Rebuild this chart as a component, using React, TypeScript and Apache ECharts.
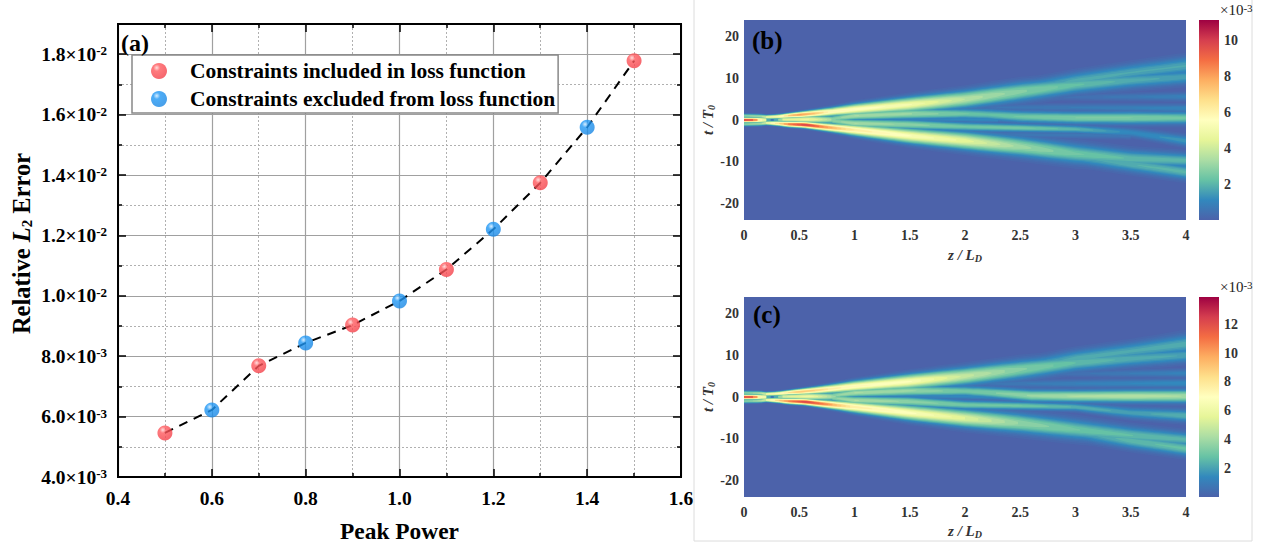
import React, { useEffect, useRef } from "react";
import * as echarts from "echarts";

const FONT = "Liberation Serif";

// Panel (a)
const includedPower = [0.5, 0.7, 0.9, 1.1, 1.3, 1.5];
const includedError = [5.46e-3, 7.68e-3, 9.03e-3, 10.87e-3, 13.74e-3, 17.78e-3];
const excludedPower = [0.6, 0.8, 1.0, 1.2, 1.4];
const excludedError = [6.22e-3, 8.44e-3, 9.83e-3, 12.2e-3, 15.58e-3];
const legendIncluded = "Constraints included in loss function";
const legendExcluded = "Constraints excluded from loss function";

const bTip = [[0, 0, 0.33, 10.2], [0.1, 0, 0.33, 10], [0.15, 0, 0.36, 6.6], [0.2, 0, 0.42, 5], [0.24, 0, 0.27, 2]];
const bUpper = [[0, 1, 0.3, 3], [0.15, 0.9, 0.3, 3.5], [0.2, 0.7, 0.28, 5], [0.3, 0.8, 0.3, 5.5], [0.4, 1.05, 0.33, 7.5], [0.5, 1.25, 0.4, 8.5], [0.65, 1.6, 0.5, 7.5], [0.8, 2, 0.62, 6], [1, 2.55, 0.8, 5.8], [1.5, 3.7, 1.1, 5.2], [2, 5, 1.3, 3.8], [2.5, 6.8, 1.45, 2.9], [3, 8.4, 1.3, 2.3], [3.5, 9.5, 1.2, 1.9], [4, 10.3, 1.1, 1.7]];
const bUpperSub = [[2.5, 7.5, 1.1, 1.4], [3, 9.4, 1.3, 1.9], [3.5, 11.4, 1.3, 1.8], [4, 13, 1.4, 1.8]];
const bLower = [[0, -1, 0.3, 3], [0.15, -0.9, 0.3, 3.5], [0.2, -0.7, 0.28, 5], [0.3, -0.8, 0.32, 7], [0.4, -1, 0.38, 9], [0.55, -1.15, 0.42, 10.5], [0.7, -1.6, 0.5, 9], [0.85, -2, 0.62, 7.5], [1, -2.4, 0.8, 6.5], [1.5, -3.8, 1.1, 5.5], [2, -5, 1.3, 4.7], [2.5, -6.4, 1.45, 3.3], [3, -8.1, 1.5, 2.5], [3.5, -9.3, 1.3, 2.2], [4, -9.7, 1.1, 2.1]];
const bLowerSub = [[3, -8.7, 1.2, 1.7], [3.5, -10.6, 1.2, 2], [4, -12.5, 1.15, 2.1]];
const bCentre = [[0.27, 0, 0.27, 2], [0.35, 0.1, 0.42, 4.5], [0.6, 0.15, 0.56, 5], [0.8, 0.1, 0.6, 3.5], [0.95, 0, 0.45, 1.5]];
const bInnerUpper = [[0.8, 0.3, 0.5, 3], [1, 1, 0.65, 3.5], [1.5, 1.5, 0.85, 3.2], [2, 1.5, 0.8, 2.5], [2.2, 1.3, 0.85, 2.3], [2.5, 0.8, 0.9, 2.5], [3, 0.5, 0.9, 2.8], [3.5, 0.5, 0.95, 2.8], [4, 0.5, 0.95, 2.5]];
const bInnerLower = [[0.8, -0.2, 0.5, 3], [1, -0.8, 0.65, 3.5], [1.5, -1.1, 0.78, 3], [2, -1.6, 0.7, 2.5], [2.5, -1.9, 0.62, 2.6], [3, -2.2, 0.6, 2.1], [3.5, -3, 0.7, 1.2], [4, -5, 0.85, 1.5]];
const bMiddle = [[0.95, 0, 0.35, 0.8], [2, 0.2, 0.55, 1.2], [2.3, 0.1, 0.55, 1.2]];
const bWeakA = [[2.2, 3, 0.55, 0.6], [3, 3, 0.6, 0.8], [4, 2.8, 0.65, 1.1]];
const bWeakB = [[2.5, 5.3, 0.55, 0.3], [3, 5.5, 0.55, 0.5], [4, 5.6, 0.65, 1]];
const bWeakC = [[2.2, -3.5, 0.55, 0.7], [3, -3.6, 0.55, 0.7], [3.5, -3.8, 0.55, 0.7]];

const cTip = [[0, 0, 0.33, 12.6], [0.1, 0, 0.33, 12.4], [0.15, 0, 0.36, 8], [0.2, 0, 0.42, 6.5], [0.24, 0, 0.27, 2.5]];
const cUpper = [[0, 1, 0.3, 3.6], [0.15, 0.9, 0.3, 4.5], [0.2, 0.7, 0.28, 6.5], [0.3, 0.8, 0.3, 7], [0.4, 1.05, 0.33, 8.5], [0.5, 1.25, 0.4, 9.5], [0.65, 1.6, 0.5, 9], [0.8, 2, 0.62, 8], [1, 2.55, 0.8, 7.4], [1.5, 3.7, 1.1, 6.9], [2, 5, 1.3, 5], [2.5, 6.6, 1.45, 3.6], [3, 8.2, 1.3, 2.8], [3.5, 9.2, 1.2, 2.4], [4, 10, 1.1, 2.2]];
const cUpperSub = [[2.5, 7.2, 1.1, 1.8], [3, 9.2, 1.3, 2.4], [3.5, 11, 1.3, 2.3], [4, 12.7, 1.5, 2.4]];
const cLower = [[0, -1, 0.3, 3.6], [0.15, -0.9, 0.3, 4.5], [0.2, -0.7, 0.28, 6.5], [0.3, -0.8, 0.32, 9], [0.4, -1, 0.38, 11], [0.55, -1.15, 0.42, 13], [0.7, -1.6, 0.5, 11.5], [0.85, -2, 0.62, 9.5], [1, -2.4, 0.8, 8], [1.5, -3.8, 1.1, 7], [2, -5.1, 1.3, 5.7], [2.5, -6.3, 1.45, 3.9], [3, -7.8, 1.5, 3.1], [3.5, -9.2, 1.3, 2.8], [4, -10.2, 1.1, 2.6]];
const cLowerSub = [[3, -8.4, 1.2, 2], [3.5, -10.5, 1.2, 2.7], [4, -12.4, 1.15, 2.9]];
const cCentre = [[0.27, 0, 0.27, 2.5], [0.35, 0.1, 0.42, 5.5], [0.6, 0.15, 0.56, 6.3], [0.8, 0.1, 0.6, 4.5], [0.95, 0, 0.45, 1.8]];
const cInnerUpper = [[0.8, 0.3, 0.5, 3.8], [1, 1, 0.65, 4.4], [1.5, 1.5, 0.85, 4], [2, 1.4, 0.8, 3.2], [2.2, 1.1, 0.85, 3.4], [2.6, 0.3, 0.9, 4], [3, 0.2, 0.9, 4.4], [3.5, 0.2, 0.95, 4.6], [4, 0.2, 1, 4.3]];
const cInnerLower = [[0.8, -0.2, 0.5, 3.8], [1, -0.8, 0.65, 4.4], [1.5, -1.1, 0.78, 3.8], [2, -1.9, 0.7, 3.2], [2.5, -2.1, 0.62, 3.1], [3, -2.4, 0.62, 2.5], [3.5, -3.8, 0.85, 2.1], [4, -4.5, 0.95, 2.5]];
const cMiddle = [[0.95, 0, 0.35, 1], [2, 0.2, 0.55, 1.5], [2.3, 0.1, 0.55, 1.6]];
const cWeakA = [[2.2, 3.2, 0.55, 0.8], [3, 3.2, 0.65, 1.2], [4, 3.3, 0.7, 1.6]];
const cWeakB = [[2.5, 5.4, 0.55, 0.4], [3, 5.6, 0.55, 0.7], [4, 5.7, 0.65, 1.3]];

const bRidges = [bWeakB, bWeakA, bWeakC, bMiddle, bUpperSub, bLowerSub, bInnerUpper, bInnerLower, bCentre, bUpper, bLower, bTip];
const cRidges = [cWeakB, cWeakA, cMiddle, cUpperSub, cLowerSub, cInnerUpper, cInnerLower, cCentre, cUpper, cLower, cTip];

const bMax = 11.14;
const cMax = 13.9;
const bBarTicks = [2, 4, 6, 8, 10];
const cBarTicks = [2, 4, 6, 8, 10, 12];
const tTicks = [-20, -10, 0, 10, 20];
const contourFractions = [0.012, 0.025, 0.04, 0.055, 0.07, 0.085, 0.1, 0.12, 0.14, 0.16, 0.18, 0.2, 0.22, 0.25, 0.28, 0.31, 0.34, 0.37, 0.4, 0.43, 0.46, 0.49, 0.52, 0.55, 0.58, 0.61, 0.64, 0.67, 0.7, 0.73, 0.76, 0.79, 0.82, 0.85, 0.88, 0.92];
const spectral = ["#4c62aa", "#3288bd", "#66c2a5", "#abdda4", "#e6f598", "#ffffbf", "#fee08b", "#fdae61", "#f46d43", "#d53e4f", "#9e0142"];

function hexRgb(h: string) {
  return [1, 3, 5].map((i) => parseInt(h.slice(i, i + 2), 16));
}
function cmap(f: number) {
  const p = Math.max(0, Math.min(0.9999, f)) * (spectral.length - 1);
  const i = Math.floor(p);
  const a = hexRgb(spectral[i]);
  const b = hexRgb(spectral[i + 1]);
  const c = a.map((v, k) => Math.round(v + (b[k] - v) * (p - i)));
  return `rgb(${c[0]},${c[1]},${c[2]})`;
}
function sampleRidge(r: number[][], z: number) {
  for (let i = 0; i < r.length - 1; i++) {
    if (z <= r[i + 1][0]) {
      const u = (z - r[i][0]) / (r[i + 1][0] - r[i][0]);
      return [1, 2, 3].map((k) => r[i][k] + (r[i + 1][k] - r[i][k]) * u);
    }
  }
  const l = r[r.length - 1];
  return [l[1], l[2], l[3]];
}
function contourItem(ridges: number[][][], max: number) {
  return (_params: any, api: any) => {
    const frac = api.value(2);
    const level = frac * max;
    const children: any[] = [];
    const flush = (run: number[][]) => {
      if (run.length < 2) return;
      const up = run.map((p) => api.coord([p[0], p[1] + p[2]]));
      const dn = run.map((p) => api.coord([p[0], p[1] - p[2]])).reverse();
      children.push({ type: "polygon", silent: true, shape: { points: up.concat(dn) }, style: { fill: cmap(frac), stroke: "none" } });
    };
    ridges.forEach((r) => {
      const z0 = r[0][0];
      const z1 = r[r.length - 1][0];
      const n = Math.max(2, Math.ceil((z1 - z0) / 0.04));
      let run: number[][] = [];
      for (let i = 0; i <= n; i++) {
        const z = z0 + ((z1 - z0) * i) / n;
        const [t, s, v] = sampleRidge(r, z);
        if (v > level) {
          run.push([z, t, s * Math.sqrt(2 * Math.log(v / level))]);
        } else {
          flush(run);
          run = [];
        }
      }
      flush(run);
    });
    return { type: "group", children };
  };
}
function sphere(light: string, mid: string, edge: string) {
  return {
    type: "radial", x: 0.36, y: 0.3, r: 0.75,
    colorStops: [{ offset: 0, color: light }, { offset: 0.28, color: mid }, { offset: 1, color: edge }],
  };
}
function toPairs(x: number[], y: number[]) {
  return x.map((v, i) => [v, y[i]]);
}
function sciLabel(v: number) {
  const exp = v < 0.00999 ? -3 : -2;
  return `${(v / Math.pow(10, exp)).toFixed(1)}×10{sup|${exp}}`;
}
const grey = "#333";
function heatAxes(g: number, ticksY: number[], xGap: number) {
  const common = { fontFamily: FONT, fontWeight: "bold", fontSize: 14, color: grey };
  const nameRich = { i: { ...common, fontSize: 15, fontStyle: "italic" }, s: { ...common, fontStyle: "italic", fontSize: 10, verticalAlign: "bottom", padding: [6, 0, 0, 0] } };
  return {
    x: {
      type: "value", gridIndex: g, min: 0, max: 4, interval: 0.5,
      name: "{i|z / L}{s|D}", nameLocation: "middle", nameGap: xGap,
      nameTextStyle: { ...common, rich: nameRich },
      axisLine: { show: false }, axisTick: { show: false }, splitLine: { show: false },
      axisLabel: { ...common, margin: 8, formatter: (v: number) => String(v) },
    },
    y: {
      type: "value", gridIndex: g, min: -24, max: 24,
      name: "{i|t / T}{s|0}", nameLocation: "middle", nameGap: 26, nameRotate: 90,
      nameTextStyle: { ...common, rich: nameRich },
      axisLine: { show: false }, axisTick: { show: false }, splitLine: { show: false },
      axisLabel: { ...common, margin: 5, customValues: ticksY },
    },
  };
}
function barAxes(g: number, max: number, ticks: number[]) {
  return {
    x: { type: "category", gridIndex: g, data: ["scale"], show: false },
    y: {
      type: "value", gridIndex: g, position: "right", min: 0, max,
      axisLine: { show: false }, splitLine: { show: false },
      axisTick: { show: true, inside: true, length: 2, customValues: ticks, lineStyle: { color: "#333" } },
      axisLabel: { fontFamily: FONT, fontWeight: "bold", fontSize: 14, color: grey, margin: 5, customValues: ticks },
    },
  };
}
function barSeries(i: number, max: number) {
  return {
    type: "bar", xAxisIndex: i, yAxisIndex: i, data: [max], barWidth: "100%", silent: true,
    itemStyle: {
      color: {
        type: "linear", x: 0, y: 1, x2: 0, y2: 0,
        colorStops: spectral.map((c, k) => ({ offset: k / (spectral.length - 1), color: c })),
      },
    },
  };
}
function heatSeries(i: number, ridges: number[][][], max: number) {
  return {
    type: "custom", xAxisIndex: i, yAxisIndex: i, clip: true, silent: true,
    renderItem: contourItem(ridges, max),
    encode: { x: 0, y: 1 },
    data: contourFractions.map((f) => [2, 0, f]),
  };
}
function panelLabel(text: string, x: number, y: number, size: number) {
  return { type: "text", x, y, z: 20, style: { text, fill: "#000", font: `bold ${size}px "${FONT}"` } };
}
function expLabel(x: number, y: number) {
  return {
    type: "text", x, y, z: 20,
    style: {
      text: "×10{s|-3}", fill: "#222", font: `15px "${FONT}"`,
      rich: { s: { fontFamily: FONT, fontSize: 11, fill: "#222", verticalAlign: "top" } },
    },
  };
}

export default function App() {
  const ref = useRef<HTMLDivElement>(null);
  useEffect(() => {
    document.body.style.margin = "0";
    const chart = echarts.init(ref.current!, undefined, { renderer: "svg" });
    const ba = heatAxes(1, tTicks, 27);
    const ca = heatAxes(3, tTicks, 26);
    const bb = barAxes(2, bMax, bBarTicks);
    const cb = barAxes(4, cMax, cBarTicks);
    const aLabel = { fontFamily: FONT, fontWeight: "bold", fontSize: 19.5, color: "#000" };
    const majorLine = { show: true, lineStyle: { color: "#a0a0a0", width: 1.2 } };
    const minorLine = { show: true, lineStyle: { color: "#b0b0b0", width: 1, type: [2, 2] } };
    const tickStyle = { color: "#000", width: 1.5 };
    chart.setOption({
      animation: false,
      backgroundColor: "#fff",
      grid: [
        { left: 118, top: 24, width: 563, height: 453, show: true, borderColor: "#000", borderWidth: 2, backgroundColor: "transparent" },
        { left: 744, top: 20, width: 442, height: 200, show: true, backgroundColor: spectral[0], borderWidth: 0 },
        { left: 1199, top: 20, width: 20, height: 200 },
        { left: 744, top: 297, width: 442, height: 200, show: true, backgroundColor: spectral[0], borderWidth: 0 },
        { left: 1199, top: 297, width: 20, height: 200 },
      ],
      xAxis: [
        {
          type: "value", gridIndex: 0, min: 0.4, max: 1.6, interval: 0.2, minorTick: { show: true, splitNumber: 2, length: 4, lineStyle: tickStyle },
          name: "Peak Power", nameLocation: "middle", nameGap: 42,
          nameTextStyle: { fontFamily: FONT, fontWeight: "bold", fontSize: 23.4, color: "#000" },
          axisLine: { lineStyle: { color: "#000", width: 2 } },
          axisTick: { inside: true, length: 8, lineStyle: tickStyle },
          splitLine: majorLine, minorSplitLine: minorLine,
          axisLabel: { ...aLabel, margin: 11, formatter: (v: number) => v.toFixed(1) },
        },
        {
          type: "value", gridIndex: 0, position: "top", min: 0.4, max: 1.6, interval: 0.2, minorTick: { show: true, splitNumber: 2, length: 4, lineStyle: tickStyle },
          axisLine: { lineStyle: { color: "#000", width: 2 } },
          axisTick: { inside: true, length: 8, lineStyle: tickStyle },
          splitLine: { show: false }, axisLabel: { show: false },
        },
        ba.x, bb.x, ca.x, cb.x,
      ],
      yAxis: [
        {
          type: "value", gridIndex: 0, min: 0.004, max: 0.019, interval: 0.002, minorTick: { show: true, splitNumber: 2, length: 4, lineStyle: tickStyle },
          name: "Relative {i|L}{s|2} Error", nameLocation: "middle", nameGap: 84, nameRotate: 90,
          nameTextStyle: {
            fontFamily: FONT, fontWeight: "bold", fontSize: 24.5, color: "#000", padding: [0, 0, 0, 14],
            rich: {
              i: { fontFamily: FONT, fontWeight: "bold", fontStyle: "italic", fontSize: 24.5, color: "#000" },
              s: { fontFamily: FONT, fontWeight: "bold", fontSize: 15, color: "#000", verticalAlign: "bottom", padding: [8, 0, 0, 0] },
            },
          },
          axisLine: { lineStyle: { color: "#000", width: 2 } },
          axisTick: { inside: true, length: 8, lineStyle: tickStyle },
          splitLine: majorLine, minorSplitLine: minorLine,
          axisLabel: {
            ...aLabel, margin: 11, showMaxLabel: false, formatter: sciLabel,
            rich: { sup: { fontFamily: FONT, fontWeight: "bold", fontSize: 13, color: "#000", verticalAlign: "top" } },
          },
        },
        {
          type: "value", gridIndex: 0, position: "right", min: 0.004, max: 0.019, interval: 0.002, minorTick: { show: true, splitNumber: 2, length: 4, lineStyle: tickStyle },
          axisLine: { lineStyle: { color: "#000", width: 2 } },
          axisTick: { inside: true, length: 8, lineStyle: tickStyle },
          splitLine: { show: false }, axisLabel: { show: false },
        },
        ba.y, bb.y, ca.y, cb.y,
      ],
      legend: {
        left: 132, top: 55, orient: "vertical", padding: [5, 3, 3, 19], itemWidth: 52, itemHeight: 16, itemGap: 6,
        backgroundColor: "#fff", borderColor: "#888", borderWidth: 1.5, z: 10,
        textStyle: { fontFamily: FONT, fontWeight: "bold", fontSize: 21.5, color: "#000" },
        data: [legendIncluded, legendExcluded],
      },
      series: [
        {
          type: "line", name: "fit", xAxisIndex: 0, yAxisIndex: 0, symbol: "none", silent: true, z: 3,
          lineStyle: { color: "#000", width: 2, type: [9, 7] },
          data: toPairs(includedPower, includedError).concat(toPairs(excludedPower, excludedError)).sort((a, b) => a[0] - b[0]),
        },
        {
          type: "scatter", name: legendIncluded, xAxisIndex: 0, yAxisIndex: 0, symbolSize: 15, z: 4,
          itemStyle: { color: sphere("#ffd6d6", "#ff5a5e", "#f23f48") },
          data: toPairs(includedPower, includedError),
        },
        {
          type: "scatter", name: legendExcluded, xAxisIndex: 0, yAxisIndex: 0, symbolSize: 15, z: 4,
          itemStyle: { color: sphere("#cfeaff", "#2098f5", "#1a86e2") },
          data: toPairs(excludedPower, excludedError),
        },
        heatSeries(2, bRidges, bMax),
        barSeries(3, bMax),
        heatSeries(4, cRidges, cMax),
        barSeries(5, cMax),
      ],
      graphic: [
        panelLabel("(a)", 121, 31, 24),
        panelLabel("(b)", 752, 28, 25),
        panelLabel("(c)", 753, 302, 25),
        expLabel(1220, 2),
        expLabel(1220, 279),
        { type: "polyline", z: 0, shape: { points: [[694, 0], [694, 541], [1252, 541], [1252, 0]] }, style: { stroke: "#dcdcdc", fill: "none", lineWidth: 1 } },
      ],
    });
    return () => chart.dispose();
  }, []);
  return <div ref={ref} style={{ position: "fixed", left: 0, top: 0, width: 1268, height: 548 }} />;
}
